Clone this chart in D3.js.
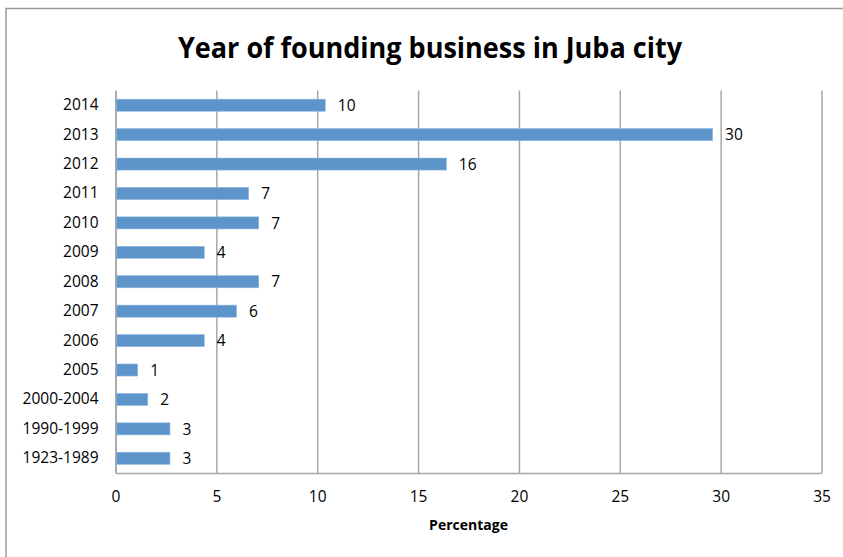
<!DOCTYPE html>
<html>
<head>
<meta charset="utf-8">
<script src="https://cdn.jsdelivr.net/npm/d3@7"></script>
<style>
  html, body { margin: 0; padding: 0; background: #fff; }
  svg { display: block; font-family: "Open Sans", "Noto Sans", sans-serif; }
</style>
</head>
<body>
<svg id="chart" width="843" height="557"></svg>
<script>
// Founding period of businesses (top row first)
const categories = ["2014", "2013", "2012", "2011", "2010", "2009", "2008",
                    "2007", "2006", "2005", "2000-2004", "1990-1999", "1923-1989"];
// Share of businesses, percent
const percentages = [10.4, 29.6, 16.4, 6.6, 7.1, 4.4, 7.1, 6.0, 4.4, 1.1, 1.6, 2.7, 2.7];
// Percentage axis ticks
const xTicks = [0, 5, 10, 15, 20, 25, 30, 35];

const titleText = "Year of founding business in Juba city";
const xAxisTitle = "Percentage";

const svg = d3.select("#chart");
const W = 843, H = 557;
const plot = { left: 115.5, right: 821.5, top: 90.5, bottom: 473 };
const labelSize = 15.5;

// Outer frame of the chart area (top and left edges)
svg.append("path")
  .attr("d", `M6,${H} V8.5 H${W}`)
  .attr("fill", "none")
  .attr("stroke", "#9a9a9a")
  .attr("stroke-width", 1.5);

const x = d3.scaleLinear().domain([0, 35]).range([plot.left, plot.right]);
const y = d3.scaleBand().domain(categories)
  .range([plot.top, plot.bottom])
  .paddingInner(0.59).paddingOuter(0.295);

// Vertical gridlines + bottom axis
const xAxis = svg.append("g")
  .attr("transform", `translate(0,${plot.bottom})`)
  .call(d3.axisBottom(x).tickValues(xTicks)
    .tickSizeInner(-(plot.bottom - plot.top)).tickSizeOuter(0).tickPadding(18));
xAxis.select(".domain").attr("stroke", "#a6a6a6").attr("stroke-width", 1.5);
xAxis.selectAll(".tick line").attr("stroke", "#a6a6a6").attr("stroke-width", 1.5);
xAxis.selectAll(".tick text")
  .attr("fill", "#000").attr("font-size", labelSize)
  .attr("font-family", "'Open Sans', sans-serif");

// Category axis
const yAxis = svg.append("g")
  .attr("transform", `translate(${plot.left},0)`)
  .call(d3.axisLeft(y).tickSize(0).tickPadding(17));
yAxis.select(".domain").attr("stroke", "#a6a6a6").attr("stroke-width", 1.5);
yAxis.selectAll(".tick text")
  .attr("fill", "#000").attr("font-size", labelSize)
  .attr("font-family", "'Open Sans', sans-serif");

// Bars
svg.append("g").selectAll("rect")
  .data(percentages)
  .join("rect")
  .attr("x", x(0) + 0.75)
  .attr("y", (d, i) => y(categories[i]))
  .attr("width", d => x(d) - x(0) - 0.75)
  .attr("height", y.bandwidth())
  .attr("fill", "#5d95ca")
  .attr("stroke", "#8fb6df")
  .attr("stroke-width", 0.6);

// Value labels, rounded to whole percent
const fmt = d3.format(".0f");
svg.append("g").selectAll("text")
  .data(percentages)
  .join("text")
  .attr("x", d => x(d) + 12.5)
  .attr("y", (d, i) => y(categories[i]) + y.bandwidth() / 2)
  .attr("dy", "0.37em")
  .attr("font-size", labelSize)
  .attr("fill", "#000")
  .text(d => fmt(d));

// Title
svg.append("text")
  .attr("x", 430)
  .attr("y", 57.5)
  .attr("text-anchor", "middle")
  .attr("font-size", 28)
  .attr("font-weight", "bold")
  .attr("font-family", "'Open Sans', sans-serif")
  .attr("textLength", 504)
  .attr("lengthAdjust", "spacingAndGlyphs")
  .attr("fill", "#000")
  .text(titleText);

// Axis title
svg.append("text")
  .attr("x", (plot.left + plot.right) / 2)
  .attr("y", 530)
  .attr("text-anchor", "middle")
  .attr("font-size", 14)
  .attr("font-weight", "bold")
  .attr("fill", "#000")
  .text(xAxisTitle);
</script>
</body>
</html>
